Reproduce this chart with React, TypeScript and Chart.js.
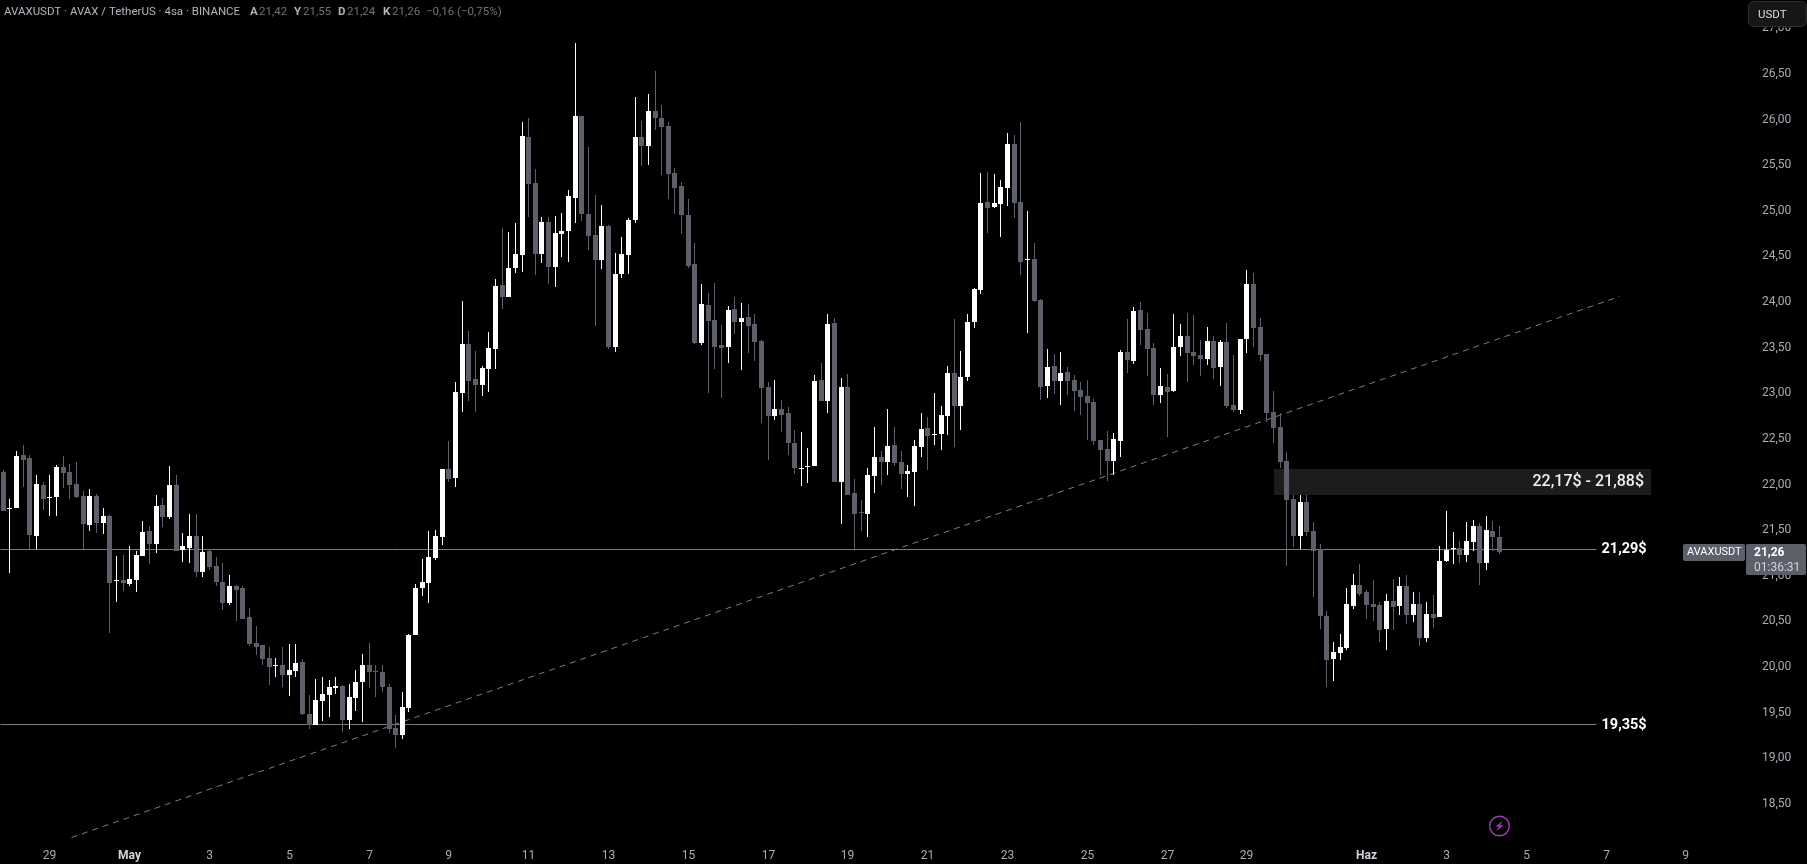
import React, { useEffect, useRef } from "react";
import { Chart, registerables, LinearScale } from "chart.js";

const opens = [
  22.14,21.73,21.74,22.32,22.29,21.44,21.99,21.85,21.86,22.19,
  22.14,22.01,21.87,21.56,21.87,21.58,21.65,20.94,20.95,20.91,
  20.95,21.22,21.49,21.35,21.78,21.64,21.99,21.28,21.30,21.44,
  21.04,21.27,21.11,20.93,20.70,20.89,20.87,20.55,20.26,20.24,
  20.10,20.01,20.02,19.91,19.96,20.05,19.48,19.37,19.63,19.69,
  19.77,19.79,19.42,19.66,19.84,20.02,19.96,19.95,19.78,19.33,
  19.25,19.55,20.35,20.87,20.92,21.20,21.43,22.17,22.07,23.00,
  23.54,23.16,23.09,23.27,23.49,24.19,24.06,24.37,24.52,25.81,
  25.30,24.53,24.88,24.38,24.75,24.78,25.14,26.04,24.97,24.73,
  24.46,24.83,23.51,24.31,24.52,24.90,25.81,25.71,26.09,26.02,
  25.93,25.41,25.27,24.95,24.42,23.55,23.97,23.80,23.53,23.51,
  23.92,23.78,23.84,23.76,23.57,23.07,22.75,22.83,22.78,22.46,
  22.17,22.19,22.20,23.15,22.92,23.77,22.03,23.07,21.91,21.70,
  21.68,22.09,22.30,22.25,22.43,22.25,22.12,22.14,22.41,22.62,
  22.54,22.55,22.75,23.22,22.86,23.18,23.78,24.13,25.10,25.04,
  25.07,25.25,25.73,25.10,24.46,24.47,24.02,23.08,23.30,23.13,
  23.23,23.15,23.04,22.97,22.90,22.49,22.39,22.26,22.48,23.45,
  23.35,23.91,23.70,23.50,22.98,23.07,23.03,23.51,23.63,23.45,
  23.42,23.38,23.57,23.29,23.56,22.87,22.82,23.60,24.20,23.73,
  23.43,22.79,22.63,22.26,21.84,21.44,21.81,21.49,21.29,20.56,
  20.09,20.15,20.21,20.67,20.90,20.82,20.69,20.68,20.42,20.72,
  20.67,20.89,20.57,20.69,20.32,20.58,20.55,21.16,21.29,21.30,
  21.23,21.37,21.54,21.14,21.49,21.42,
];
const highs = [
  22.16,21.84,22.37,22.43,22.32,22.10,22.03,22.10,22.21,22.31,
  22.22,22.25,21.93,21.95,21.90,21.74,21.67,21.22,21.23,21.33,
  21.27,21.60,21.55,21.88,21.85,22.20,22.10,21.47,21.68,21.68,
  21.44,21.28,21.21,21.14,21.01,20.90,20.89,20.65,20.45,20.24,
  20.22,20.10,20.22,20.25,20.25,20.09,19.69,19.87,19.89,19.86,
  19.89,19.80,19.81,19.97,20.14,20.26,20.02,20.02,19.81,19.47,
  19.73,20.36,20.91,21.18,21.49,21.50,22.17,22.48,23.12,24.01,
  23.68,23.46,23.30,23.67,24.25,24.81,24.77,24.87,25.97,26.02,
  25.46,24.93,24.93,24.94,24.98,25.23,26.84,26.04,25.70,25.17,
  25.06,24.84,24.54,24.71,24.92,26.25,25.98,26.28,26.53,26.16,
  25.97,25.47,25.32,25.13,24.65,24.20,24.10,24.21,23.75,23.96,
  24.06,23.99,23.98,23.87,23.58,23.12,23.15,22.93,22.85,22.60,
  22.58,22.40,23.20,23.33,23.87,23.82,23.17,23.21,22.06,21.83,
  22.18,22.63,22.37,22.83,22.63,22.37,22.21,22.49,22.78,22.74,
  23.00,22.86,23.30,23.81,23.46,23.87,24.15,25.41,25.43,25.40,
  25.34,25.85,25.83,25.97,25.00,24.65,24.03,23.49,23.43,23.45,
  23.29,23.20,23.12,23.15,22.94,22.49,22.59,22.56,23.47,23.81,
  23.95,24.00,23.88,23.55,23.28,23.21,23.87,23.76,23.88,23.86,
  23.58,23.73,23.63,23.58,23.77,23.42,23.60,24.35,24.32,23.82,
  23.43,23.03,22.78,22.36,21.88,21.88,21.88,21.59,21.35,20.61,
  20.27,20.36,20.87,21.02,21.13,20.84,20.95,20.71,20.80,20.96,
  20.99,21.01,20.82,20.82,20.71,20.79,21.33,21.71,21.48,21.38,
  21.59,21.61,21.58,21.65,21.60,21.55,
];
const lows = [
  21.71,21.03,21.74,21.97,21.29,21.29,21.72,21.65,21.65,21.96,
  21.84,21.85,21.29,21.49,21.47,21.46,20.37,20.71,20.83,20.89,
  20.82,21.22,21.13,21.25,21.53,21.62,21.27,21.15,21.14,20.99,
  20.99,21.06,20.89,20.62,20.68,20.50,20.53,20.23,20.13,20.02,
  19.80,19.89,19.78,19.68,19.89,19.47,19.32,19.36,19.41,19.45,
  19.70,19.29,19.32,19.52,19.40,19.77,19.67,19.73,19.28,19.11,
  19.21,19.51,20.35,20.78,20.70,21.17,21.34,22.03,21.97,22.79,
  22.92,22.79,22.97,23.01,23.27,23.92,24.06,24.32,24.33,24.93,
  24.30,24.43,24.20,24.16,24.49,24.44,24.87,24.89,24.57,23.74,
  24.36,23.49,23.45,24.26,24.31,24.87,25.49,25.50,25.89,25.39,
  25.13,24.97,24.74,24.37,23.54,23.53,23.00,23.27,22.95,23.33,
  23.65,23.26,23.44,23.35,22.67,22.27,22.71,22.58,22.32,22.12,
  21.98,22.02,22.20,22.92,22.78,22.03,21.57,21.89,21.27,21.49,
  21.43,21.91,21.99,22.10,22.20,21.95,21.86,21.77,22.30,22.16,
  22.43,22.38,22.54,22.41,22.60,23.13,23.72,24.09,24.76,25.03,
  24.71,25.05,24.92,24.30,23.66,24.00,22.93,22.95,22.99,22.87,
  22.98,22.81,22.76,22.49,22.43,22.10,22.04,22.10,22.30,23.22,
  23.32,23.53,23.19,22.87,22.89,22.52,23.01,23.41,23.12,23.31,
  23.19,23.31,23.16,23.08,22.84,22.79,22.77,23.44,23.51,23.35,
  22.68,22.45,22.18,21.11,21.31,21.29,21.44,20.77,20.42,19.78,
  19.85,20.08,20.19,20.64,20.78,20.53,20.50,20.27,20.19,20.41,
  20.57,20.47,20.49,20.23,20.27,20.43,20.55,21.15,21.13,21.14,
  21.15,21.27,20.90,21.06,21.27,21.24,
];
const closes = [
  21.71,21.74,22.31,22.27,21.45,22.01,21.84,21.86,22.19,22.13,
  21.99,21.86,21.57,21.87,21.58,21.65,20.92,20.95,20.92,20.96,
  21.23,21.48,21.35,21.76,21.64,21.99,21.27,21.33,21.44,21.04,
  21.26,21.10,20.93,20.70,20.89,20.84,20.53,20.25,20.22,20.09,
  20.00,20.02,19.91,19.97,20.04,19.48,19.37,19.64,19.70,19.78,
  19.79,19.42,19.67,19.84,20.02,19.95,19.95,19.78,19.32,19.25,
  19.56,20.35,20.87,20.93,21.21,21.44,22.17,22.06,23.01,23.54,
  23.13,23.09,23.28,23.50,24.18,24.06,24.37,24.53,25.82,25.29,
  24.53,24.88,24.38,24.76,24.78,25.16,26.04,24.96,24.72,24.46,
  24.83,23.51,24.31,24.53,24.90,25.81,25.71,26.09,26.02,25.92,
  25.40,25.25,24.95,24.40,23.55,23.98,23.79,23.51,23.50,23.91,
  23.78,23.82,23.74,23.56,23.06,22.75,22.83,22.76,22.46,22.18,
  22.18,22.20,23.13,22.92,23.76,22.03,23.07,21.89,21.68,21.69,
  22.10,22.30,22.25,22.42,22.24,22.12,22.15,22.42,22.61,22.53,
  22.55,22.76,23.22,22.86,23.18,23.78,24.14,25.09,25.03,25.09,
  25.26,25.73,25.09,24.44,24.47,24.01,23.07,23.29,23.13,23.22,
  23.13,23.03,22.96,22.89,22.48,22.38,22.26,22.50,23.45,23.37,
  23.90,23.69,23.49,22.98,23.08,23.01,23.51,23.63,23.44,23.41,
  23.38,23.57,23.28,23.56,22.86,22.82,23.60,24.20,23.71,23.42,
  22.78,22.62,22.25,21.83,21.44,21.81,21.48,21.27,20.56,20.08,
  20.16,20.22,20.69,20.90,20.80,20.68,20.66,20.41,20.72,20.66,
  20.89,20.57,20.69,20.32,20.58,20.54,21.16,21.28,21.30,21.23,
  21.38,21.54,21.14,21.50,21.42,21.26,
];

const dateTickIndex = [7,19,31,43,55,67,79,91,103,115,127,139,151,163,175,187,205,217,229,241,253];
const dateTickLabels = ["29","May","3","5","7","9","11","13","15","17","19","21","23","25","27","29","Haz","3","5","7","9"];
const boldDateLabels = ["May", "Haz"];
const priceTicks = [18.5,19,19.5,20,20.5,21,21.5,22,22.5,23,23.5,24,24.5,25,25.5,26,26.5,27];

const levelPrices = [21.29, 19.365];
const levelLabels = ["21,29$", "19,35$"];
const levelEndIndex = 239.5;
const levelLabelIndex = 240.25;
const trendIndex = [10.26, 243.1];
const trendPrice = [18.13, 24.055];
const zoneIndex = [191.08, 247.8];
const zonePrice = [22.17, 21.885];
const zoneLabel = "22,17$ - 21,88$";
const lastPriceLabel = "21,26";
const lastPriceCountdown = "01:36:31";
const symbolName = "AVAXUSDT";
const lastPrice = 21.26;

const UP = "#ffffff";
const DOWN = "#5d606b";
const FONT = "Roboto, sans-serif";
const PRICE_MIN = 18.1043;
const PRICE_MAX = 27.3098;

class SnapHalfScale extends LinearScale {
  static id = "snapHalf";
  static defaults = {};
  getPixelForValue(value: number) {
    return Math.round(super.getPixelForValue(value) - 0.5) + 0.5;
  }
}
class SnapWholeScale extends LinearScale {
  static id = "snapWhole";
  static defaults = {};
  getPixelForValue(value: number) {
    return Math.round(super.getPixelForValue(value));
  }
}
Chart.register(...registerables, SnapHalfScale, SnapWholeScale);

function text(ctx: any, s: string, x: number, y: number, font: string, color: string, align: any = "left") {
  ctx.font = font;
  ctx.fillStyle = color;
  ctx.textAlign = align;
  ctx.textBaseline = "middle";
  ctx.fillText(s, x, y);
}
function rrect(ctx: any, x: number, y: number, w: number, h: number, r: number) {
  ctx.beginPath();
  ctx.roundRect(x, y, w, h, r);
}
const noPadding = (s: any) => {
  s.paddingLeft = 0;
  s.paddingRight = 0;
  s.paddingTop = 0;
  s.paddingBottom = 0;
};

const zonePlugin = {
  id: "zone",
  beforeDatasetsDraw(chart: any) {
    const { ctx, scales } = chart;
    const x0 = scales.x.getPixelForValue(zoneIndex[0]) - 0.5;
    const x1 = scales.x.getPixelForValue(zoneIndex[1]) - 0.5;
    const y0 = scales.y.getPixelForValue(zonePrice[0]);
    const y1 = scales.y.getPixelForValue(zonePrice[1]);
    ctx.save();
    ctx.fillStyle = "#1c1c1c";
    ctx.fillRect(x0, y0, x1 - x0, y1 - y0);
    ctx.restore();
  },
};

const overlayPlugin = {
  id: "overlay",
  afterDraw(chart: any) {
    const { ctx, scales } = chart;
    ctx.save();
    // drawing labels
    text(ctx, zoneLabel, 1644, scales.y.getPixelForValue((zonePrice[0] + zonePrice[1]) / 2), `500 16px ${FONT}`, "#f0f0f0", "right");
    levelPrices.forEach((p, i) => {
      text(ctx, levelLabels[i], scales.x.getPixelForValue(levelLabelIndex), scales.y.getPixelForValue(p), `bold 14.5px ${FONT}`, "#ffffff");
    });

    // header
    const y = 12;
    const f = `11.5px ${FONT}`;
    const bright = "#b2b5be";
    const dim = "#6f727c";
    text(ctx, "AVAXUSDT · AVAX / TetherUS · 4sa · BINANCE", 4, y, f, bright);
    const pairs: [string, string, number][] = [["A", "21,42", 250], ["Y", "21,55", 294], ["D", "21,24", 338], ["K", "21,26", 383]];
    pairs.forEach(([a, b, x]) => {
      text(ctx, a, x, y, `bold 11.5px ${FONT}`, bright);
      text(ctx, b, x + 9, y, f, dim);
    });
    text(ctx, "−0,16 (−0,75%)", 426, y, f, dim);

    // currency button
    ctx.fillStyle = "#000";
    ctx.fillRect(1749, 0, 58, 27.5);
    rrect(ctx, 1748.5, 1.5, 58, 25, 5);
    ctx.fillStyle = "#161616";
    ctx.fill();
    ctx.strokeStyle = "#2e2e2e";
    ctx.lineWidth = 1;
    ctx.stroke();
    text(ctx, "USDT", 1758, 15, "11.5px " + FONT, "#dddddd");

    // last price tag
    const ly = scales.y.getPixelForValue(lastPrice);
    ctx.fillStyle = DOWN;
    rrect(ctx, 1683, ly - 8, 62, 17, 2);
    ctx.fill();
    rrect(ctx, 1746, ly - 8, 60, 31, 2);
    ctx.fill();
    text(ctx, symbolName, 1687, ly + 0.5, "11px " + FONT, "#ffffff");
    text(ctx, lastPriceLabel, 1754, ly + 0.5, `bold 12px ${FONT}`, "#ffffff");
    text(ctx, lastPriceCountdown, 1754, ly + 15.5, "12px " + FONT, "#d0d1d6");

    // flash icon
    const cx = 1499.5;
    const cy = 826;
    ctx.strokeStyle = "#9c3fb2";
    ctx.lineWidth = 1.4;
    ctx.beginPath();
    ctx.arc(cx, cy, 9.8, 0, Math.PI * 2);
    ctx.stroke();
    ctx.fillStyle = "#9c3fb2";
    ctx.beginPath();
    ctx.moveTo(cx + 3.5, cy - 5.5);
    ctx.lineTo(cx - 4, cy + 0.8);
    ctx.lineTo(cx - 0.6, cy + 0.8);
    ctx.lineTo(cx - 3.5, cy + 5.5);
    ctx.lineTo(cx + 4, cy - 0.8);
    ctx.lineTo(cx + 0.6, cy - 0.8);
    ctx.closePath();
    ctx.fill();
    ctx.restore();
  },
};

export default function App() {
  const ref = useRef<HTMLCanvasElement>(null);
  useEffect(() => {
    document.body.style.margin = "0";
    document.body.style.background = "#000";
    const colors = closes.map((c, i) => (c >= opens[i] ? UP : DOWN));
    const chart = new Chart(ref.current as any, {
      type: "bar",
      data: {
        datasets: [
          {
            type: "bar",
            order: 1,
            data: opens.map((o, i) => ({ x: i, y: [o, closes[i]] })),
            backgroundColor: colors,
            barThickness: 5,
            grouped: false,
            minBarLength: 1,
            inflateAmount: 0,
            borderWidth: 0,
          },
          {
            type: "bar",
            order: 2,
            data: highs.map((h, i) => ({ x: i, y: [lows[i], h] })),
            backgroundColor: colors,
            barThickness: 1,
            grouped: false,
            inflateAmount: 0,
            borderWidth: 0,
          },
          {
            type: "line",
            order: 3,
            yAxisID: "yLine",
            data: trendIndex.map((x, i) => ({ x, y: trendPrice[i] })),
            borderColor: "#7e7e7e",
            borderWidth: 1,
            borderDash: [6, 5],
            pointRadius: 0,
          },
          ...levelPrices.map((p) => ({
            type: "line",
            order: 4,
            yAxisID: "yLine",
            data: [{ x: -0.5, y: p }, { x: levelEndIndex, y: p }],
            borderColor: "#7c7c7c",
            borderWidth: 1,
            pointRadius: 0,
          })),
        ] as any,
      },
      options: {
        responsive: false,
        animation: false,
        events: [],
        layout: { padding: 0 },
        plugins: { legend: { display: false }, tooltip: { enabled: false } },
        scales: {
          x: {
            type: "snapHalf",
            axis: "x",
            position: "bottom",
            offset: false,
            min: -0.5,
            max: 262.5,
            grid: { display: false },
            border: { display: false },
            afterBuildTicks: (s: any) => {
              s.ticks = dateTickIndex.map((value) => ({ value }));
            },
            afterFit: (s: any) => {
              s.height = 24;
              noPadding(s);
            },
            ticks: {
              autoSkip: false,
              maxRotation: 0,
              padding: 1,
              font: (c: any) => ({
                family: FONT,
                size: 12,
                weight: boldDateLabels.includes(c.tick?.label) ? "bold" : "normal",
              }),
              color: (c: any) => (boldDateLabels.includes(c.tick?.label) ? "#d1d4dc" : "#a8abb4"),
              callback: (v: number) => dateTickLabels[dateTickIndex.indexOf(v)],
            },
          },
          y: {
            type: "snapWhole",
            axis: "y",
            position: "right",
            min: PRICE_MIN,
            max: PRICE_MAX,
            grid: { display: false },
            border: { display: false },
            afterBuildTicks: (s: any) => {
              s.ticks = priceTicks.map((value) => ({ value }));
            },
            afterFit: (s: any) => {
              s.width = 58;
              noPadding(s);
            },
            ticks: {
              autoSkip: false,
              padding: 5,
              font: { family: FONT, size: 12 },
              color: "#a8abb4",
              callback: (v: number) => v.toFixed(2).replace(".", ","),
            },
          },
          yLine: {
            type: "snapHalf",
            axis: "y",
            position: "right",
            display: false,
            min: PRICE_MIN,
            max: PRICE_MAX,
          },
        },
      } as any,
      plugins: [zonePlugin, overlayPlugin],
    });
    return () => chart.destroy();
  }, []);
  return <canvas ref={ref} width={1807} height={864} style={{ display: "block" }} />;
}
